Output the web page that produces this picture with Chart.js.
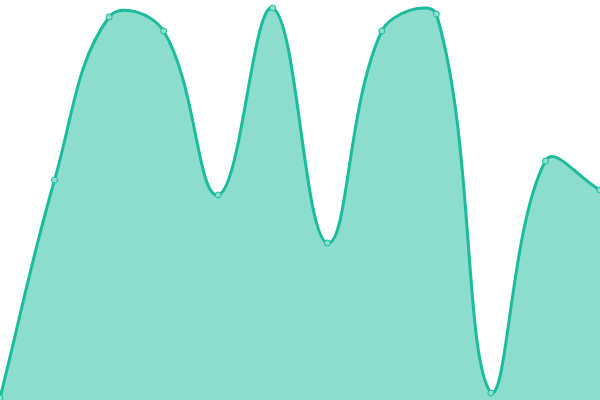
<!DOCTYPE html>
<html>
<head>
<meta charset="utf-8">
<script src="https://cdn.jsdelivr.net/npm/chart.js@4"></script>
<style>
  html, body { margin: 0; padding: 0; background: #fff; }
  #wrap { width: 600px; height: 400px; }
</style>
</head>
<body>
<div id="wrap"><canvas id="areaChart"></canvas></div>
<script>
const labels = ['1', '2', '3', '4', '5', '6', '7', '8', '9', '10', '11', '12'];
const values = [2, 220, 383, 369, 205, 392, 157, 369, 386, 7, 239, 210];

const ctx = document.getElementById('areaChart').getContext('2d');
new Chart(ctx, {
  type: 'line',
  data: {
    labels: labels,
    datasets: [{
      data: values,
      fill: 'origin',
      tension: 0.4,
      borderColor: 'rgb(26, 188, 156)',
      backgroundColor: 'rgba(26, 188, 156, 0.5)',
      borderWidth: 3,
      pointRadius: 3,
      pointBorderWidth: 1,
      pointBackgroundColor: 'rgb(140, 222, 206)',
      pointBorderColor: 'rgb(26, 188, 156)'
    }]
  },
  options: {
    responsive: true,
    maintainAspectRatio: false,
    animation: false,
    layout: { padding: 0, autoPadding: false },
    plugins: { legend: { display: false }, tooltip: { enabled: false } },
    scales: {
      x: { display: false, offset: false },
      y: { display: false, min: 0, max: 400 }
    }
  }
});
</script>
</body>
</html>
